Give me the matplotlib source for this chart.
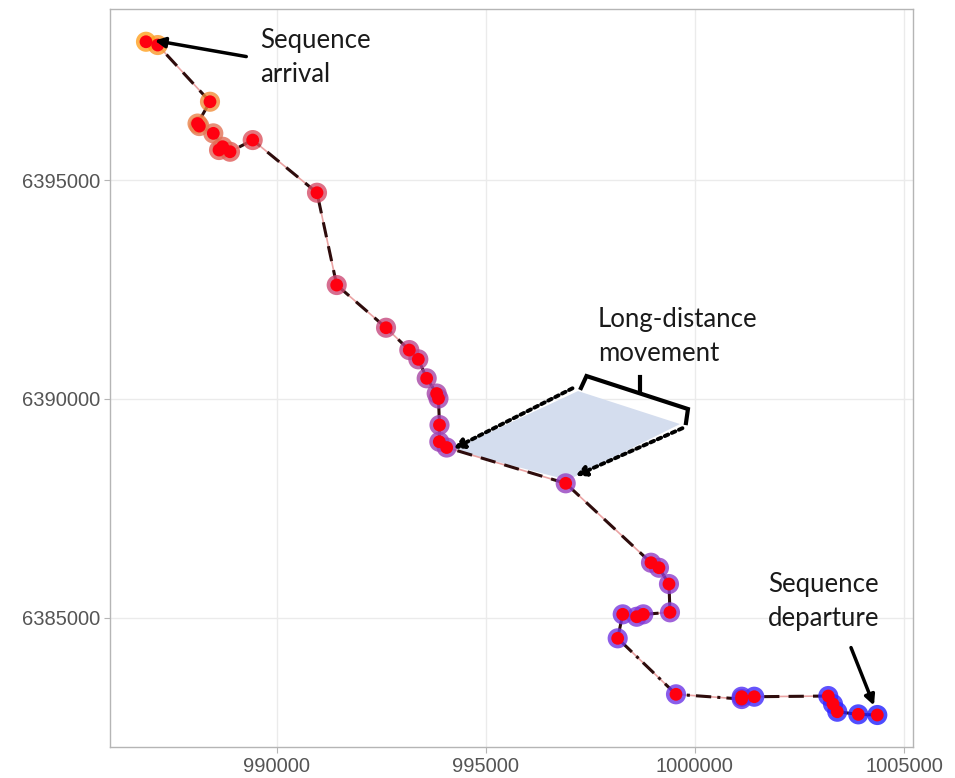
import numpy as np
import matplotlib
matplotlib.use("Agg")
import matplotlib.pyplot as plt
from matplotlib.colors import LinearSegmentedColormap
from matplotlib.patches import Polygon

# track positions, ordered from departure (bottom right) to arrival (top left)
easting = [1004362, 1003907, 1003405, 1003303, 1003190, 1001421, 1001120, 1001120,
           999550, 998156, 998276, 998610, 998768, 999406, 999382, 999143, 998952,
           996913, 994068, 993892, 993896, 993872, 993829, 993590, 993390, 993174,
           992618, 991439, 990968, 989431, 988888, 988626, 988714, 988489, 988155,
           988112, 988410, 987160, 986880]
northing = [6382772, 6382787, 6382847, 6383023, 6383206, 6383190, 6383190, 6383137,
            6383245, 6384525, 6385073, 6385018, 6385073, 6385119, 6385766, 6386138,
            6386253, 6388068, 6388886, 6389018, 6389400, 6390006, 6390120, 6390468,
            6390902, 6391114, 6391624, 6392600, 6394710, 6395914, 6395647, 6395686,
            6395761, 6396067, 6396234, 6396291, 6396790, 6398086, 6398161]

x_ticks = [990000, 995000, 1000000, 1005000]
y_ticks = [6385000, 6390000, 6395000]

# line type of each segment (d = dashed, dd = dash-dot, s = solid)
seg_types = ["d", "d", "s", "s", "d", "d", "s", "dd", "dd", "s", "s", "s", "dd",
             "s", "s", "s", "d", "d", "s", "s", "s", "s", "s", "d", "s", "d",
             "d", "d", "d", "d", "s", "s", "s", "s", "s", "s", "d", "d"]
dash_map = {"d": (0, (5, 3)), "dd": (0, (5, 2, 1, 2)), "s": "-"}

plt.rcParams["font.family"] = ["Liberation Sans", "DejaVu Sans"]

fig = plt.figure(figsize=(9.55, 7.78), dpi=100)
ax = fig.add_axes([0.1152, 0.0398, 0.8408, 0.9486])

ax.set_xlim(986020, 1005215)
ax.set_ylim(6382040, 6398909)
ax.set_xticks(x_ticks)
ax.set_yticks(y_ticks)
ax.set_xticklabels([str(v) for v in x_ticks])
ax.set_yticklabels([str(v) for v in y_ticks])
ax.grid(True, color="#ebebeb", lw=1.0)
ax.set_axisbelow(True)
for sp in ax.spines.values():
    sp.set_color("#b5b5b5")
    sp.set_linewidth(1.0)
ax.tick_params(colors="#b5b5b5", labelcolor="#555555", labelsize=14.5, length=4, pad=3)

# shaded area for the long-distance move
poly = Polygon([(997207, 6390177), (999645, 6389423), (996968, 6388143), (994195, 6388829)],
               closed=True, facecolor="#d4ddee", edgecolor="none", zorder=1)
ax.add_patch(poly)

# path
for i in range(len(easting) - 1):
    xs = easting[i:i + 2]
    ys = northing[i:i + 2]
    ax.plot(xs, ys, color="#eaa3a3", lw=1.2, zorder=2)
    ax.plot(xs, ys, color="#2e0c0c", lw=2.2, ls=dash_map[seg_types[i]], zorder=3)

# points, coloured by order in the sequence
cmap = LinearSegmentedColormap.from_list(
    "seq", [(0.0, "#2020ff"), (0.12, "#3a28ff"), (0.2, "#6a34e8"), (0.35, "#8a3cd0"),
            (0.6, "#a646a6"), (0.72, "#d24a70"), (0.78, "#e05858"), (0.9, "#e47a55"),
            (1.0, "#ffa01e")])
order = np.arange(len(easting)) / (len(easting) - 1)
ax.scatter(easting, northing, s=210, c=cmap(order), alpha=0.8, edgecolors="none", zorder=4)
ax.scatter(easting, northing, s=85, c="#ff0010", edgecolors="none", zorder=5)

txt = dict(fontsize=18.5, family=["Lato", "DejaVu Sans"], color="#1a1a1a", linespacing=1.45)

ax.text(989606, 6397800, "Sequence\narrival", ha="left", va="center", **txt)
ax.annotate("", xy=(987024, 6398200), xytext=(989343, 6397811),
            arrowprops=dict(arrowstyle="-|>,head_length=0.6,head_width=0.3", color="black", lw=2.5),
            zorder=6)

ax.text(1001749, 6385366, "Sequence\ndeparture", ha="left", va="center", **txt)
ax.annotate("", xy=(1004307, 6382931), xytext=(1003709, 6384372),
            arrowprops=dict(arrowstyle="-|>,head_length=0.6,head_width=0.3", color="black", lw=2.5),
            zorder=6)

ax.text(997685, 6391423, "Long-distance\nmovement", ha="left", va="center", **txt)

# bracket
bx = [997278, 997410, 999836, 999788]
by = [6390246, 6390520, 6389766, 6389446]
ax.plot(bx, by, color="black", lw=3, solid_joinstyle="miter", zorder=6)
ax.plot([998680, 998680], [6390154, 6390497], color="black", lw=3, zorder=6)

# dotted arrows to the two ends of the move
ax.annotate("", xy=(994171, 6388829), xytext=(997135, 6390269),
            arrowprops=dict(arrowstyle="-|>,head_length=0.6,head_width=0.3", color="black",
                            lw=2.8, linestyle=(0, (1, 1))), zorder=6)
ax.annotate("", xy=(997088, 6388212), xytext=(999765, 6389354),
            arrowprops=dict(arrowstyle="-|>,head_length=0.6,head_width=0.3", color="black",
                            lw=2.8, linestyle=(0, (1, 1))), zorder=6)

fig.savefig("out.png", dpi=100)
